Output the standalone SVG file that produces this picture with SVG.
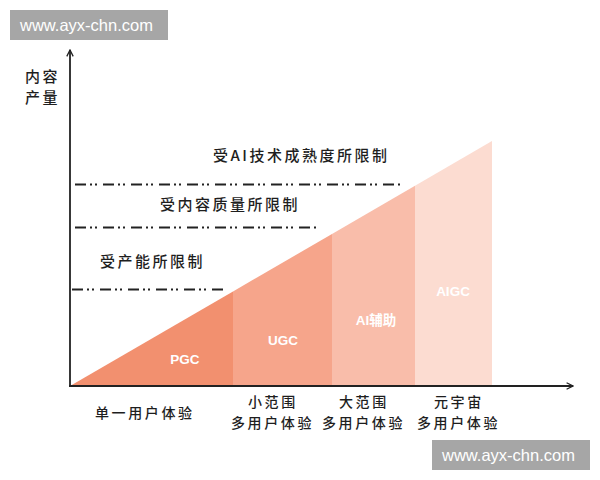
<svg xmlns="http://www.w3.org/2000/svg" width="600" height="480" viewBox="0 0 600 480">
<defs>
<style>
.cn{font-family:"Noto Sans CJK SC","Noto Sans",sans-serif;fill:#1e1e1e;font-size:15px;font-weight:500;letter-spacing:2.5px}
.cb{font-family:"Noto Sans CJK SC","Noto Sans",sans-serif;fill:#1e1e1e;font-size:14px;font-weight:500;letter-spacing:2.6px}
.rl{font-family:"Liberation Sans","Noto Sans CJK SC",sans-serif;fill:#fff;font-size:13.5px;font-weight:bold;text-anchor:middle}
.wm{font-family:"Liberation Sans",sans-serif;fill:#fff;font-size:16.5px}
.lim{stroke:#222;stroke-width:1.8;fill:none;stroke-dasharray:11 4 2 3 2 6}
.ax{stroke:#222;stroke-width:1.8;fill:none}
</style>
<marker id="arr" viewBox="0 0 10 10" refX="9" refY="5" markerWidth="8" markerHeight="8" markerUnits="userSpaceOnUse" orient="auto">
<polyline points="1,1 9,5 1,9" fill="none" stroke="#222" stroke-width="1.6"/>
</marker>
</defs>
<rect width="600" height="480" fill="#fff"/>
<g id="watermark-top">
<rect x="10" y="10" width="158" height="30" fill="#a6a6a6"/>
<text class="wm" x="20" y="31">www.ayx-chn.com</text>
</g>
<g id="region-pgc">
<polygon points="70,386 233,386 233,291.4" fill="#f2906f"/>
<text class="rl" x="185" y="364">PGC</text>
</g>
<g id="region-ugc">
<polygon points="233,386 233,291.4 332,234 332,386" fill="#f6a58b"/>
<text class="rl" x="283" y="345">UGC</text>
</g>
<g id="region-ai">
<polygon points="332,386 332,234 415,185.7 415,386" fill="#f9bdaa"/>
<text class="rl" x="376" y="325">AI辅助</text>
</g>
<g id="region-aigc">
<polygon points="415,386 415,185.7 492,141 492,386" fill="#fcdcd1"/>
<text class="rl" x="453" y="296">AIGC</text>
</g>
<g id="limits">
<line class="lim" x1="75" y1="184.5" x2="400" y2="184.5"/>
<line class="lim" x1="75" y1="227.5" x2="318" y2="227.5"/>
<line class="lim" x1="72" y1="289.5" x2="224" y2="289.5"/>
<text class="cn" x="213" y="161">受AI技术成熟度所限制</text>
<text class="cn" x="160" y="210">受内容质量所限制</text>
<text class="cn" x="100" y="267">受产能所限制</text>
</g>
<g id="connectors">
<line class="ax" x1="70" y1="387" x2="70" y2="50" marker-end="url(#arr)"/>
<line class="ax" x1="69" y1="386" x2="573" y2="386" marker-end="url(#arr)"/>
</g>
<g id="y-label">
<text class="cn" x="25" y="82" letter-spacing="2">内容</text>
<text class="cn" x="25" y="103" letter-spacing="2">产量</text>
</g>
<g id="x-labels">
<text class="cb" x="95" y="418">单一用户体验</text>
<text class="cb" x="248" y="407">小范围</text>
<text class="cb" x="231" y="428">多用户体验</text>
<text class="cb" x="339" y="407">大范围</text>
<text class="cb" x="322" y="428">多用户体验</text>
<text class="cb" x="434" y="407">元宇宙</text>
<text class="cb" x="417" y="428">多用户体验</text>
</g>
<g id="watermark-bottom">
<rect x="432" y="440" width="158" height="30" fill="#a6a6a6"/>
<text class="wm" x="442" y="461">www.ayx-chn.com</text>
</g>
</svg>
